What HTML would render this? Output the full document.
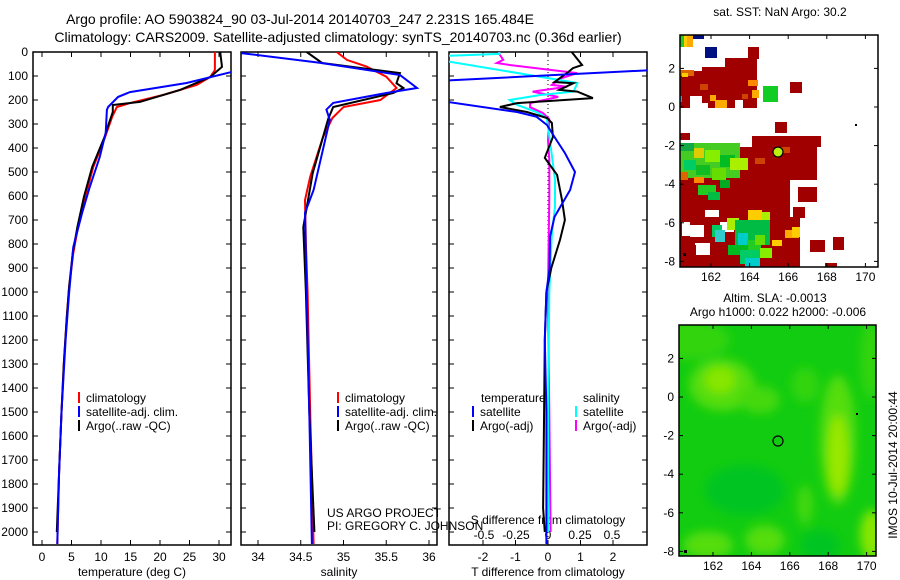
<!DOCTYPE html>
<html><head><meta charset="utf-8"><style>
body{margin:0;background:#fff;}
svg{display:block;font-family:"Liberation Sans",sans-serif;}
</style></head><body>
<svg id="c" width="900" height="580" xmlns="http://www.w3.org/2000/svg">
<text x="300" y="24" font-size="14" text-anchor="middle">Argo profile: AO 5903824_90 03-Jul-2014 20140703_247 2.231S 165.484E</text>
<text x="338" y="42" font-size="14" text-anchor="middle">Climatology: CARS2009. Satellite-adjusted climatology: synTS_20140703.nc (0.36d earlier)</text>
<text x="780" y="16" font-size="12" text-anchor="middle">sat. SST: NaN Argo: 30.2</text>
<text x="775" y="302" font-size="12" text-anchor="middle">Altim. SLA: -0.0013</text>
<text x="778" y="316" font-size="12" text-anchor="middle">Argo h1000: 0.022 h2000: -0.006</text>
<text x="897" y="465" font-size="12" text-anchor="middle" transform="rotate(-90 897 465)">IMOS 10-Jul-2014 20:00:44</text>
<text x="327" y="517" font-size="12">US ARGO PROJECT</text>
<text x="327" y="530" font-size="12">PI: GREGORY C. JOHNSON</text>
</svg>
<script>
// ---- data ----
const depthTicks=[0,100,200,300,400,500,600,700,800,900,1000,1100,1200,1300,1400,1500,1600,1700,1800,1900,2000];
const tTicks=[0,5,10,15,20,25,30];
const sTicks=[34,34.5,35,35.5,36];
const dtTicks=[-2,-1,0,1,2];
const dsTicks=[-0.5,-0.25,0,0.25,0.5];
const tClimDepth=[0,75,104,137,179,213,229,270,354,479,604,729,838,979,1104,1300,1500,1750,2050];
const tClimVal=[29.3,29.3,28.5,26.2,20.5,14.9,12.7,11.9,10.7,8.7,7.3,6.1,5.3,4.6,4.2,3.7,3.3,2.9,2.6];
const tArgoDepth=[0,62,104,158,208,221,250,300,354,479,604,729,838,979,1104,1300,1500,1750,2000];
const tArgoVal=[30.2,30.5,28.5,23.4,16.6,12.0,12.0,11.3,10.6,8.5,7.1,6.0,5.2,4.6,4.2,3.7,3.3,2.9,2.5];
const tSatDepth=[0,83,129,167,187,229,241,337,437,562,671,812,1004,1200,1500,1750,2050];
const tSatVal=[34,32.2,24.5,14.9,12.9,11.2,11.0,10.8,9.8,8.1,6.8,5.3,4.6,4.0,3.3,2.9,2.6];
const sClimDepth=[0,33,61,103,150,200,229,275,354,520,617,800,1000,1500,2050];
const sClimVal=[34.92,35.04,35.27,35.5,35.62,35.43,35.0,34.87,34.76,34.61,34.55,34.56,34.58,34.61,34.65];
const sArgoDepth=[0,46,88,130,150,171,229,280,505,730,1000,1500,2000];
const sArgoVal=[34.57,34.75,35.66,35.62,35.7,35.58,34.88,34.82,34.64,34.53,34.56,34.6,34.66];
const sSatDepth=[0,45,96,150,171,212,240,283,575,670,1000,1500,2050];
const sSatVal=[33.7,34.72,35.66,35.86,35.5,34.88,34.8,34.84,34.65,34.55,34.57,34.6,34.63];
const dtSatDepth=[0,70,125,190,250,270,304,354,421,500,575,687,770,900,1000,1200,1500,2050];
const dtSatVal=[4,4,-4,-4,-0.95,-0.35,-0.03,0.2,0.52,0.83,0.68,0.2,0.06,0.05,-0.05,-0.1,-0.05,-0.05];
const dtArgoDepth=[0,54,67,88,125,130,158,165,192,200,213,229,250,275,296,354,441,512,617,700,783,900,1000,1200,1500,1900,2000];
const dtArgoVal=[0.73,1.05,0.77,0.58,0.2,0.78,0.35,0.9,1.38,0.5,-0.95,-1.48,-0.65,-0.03,0.12,0.15,-0.1,0.28,0.43,0.52,0.37,0.1,-0.05,-0.1,-0.12,-0.15,-0.1];
const dsSatDepth=[0,8,20,129,165,179,200,221,250,275,367,533,645,760,1000,1500,2000];
const dsSatVal=[-0.38,-0.38,-1.0,0.23,0.2,-0.06,-0.3,-0.24,-0.09,-0.01,0.015,0.055,0.055,0.03,0.01,0.0,0.0];
const dsArgoDepth=[0,33,46,54,88,110,137,145,165,187,213,230,254,280,367,450,600,1000,1500,2000];
const dsArgoVal=[-0.39,-0.35,-0.4,-0.3,0.23,0.1,0.03,0.15,-0.12,0.08,-0.14,-0.14,-0.04,0.01,0,0.01,0.01,0.0,0.01,0.02];
const lonTicks=[162,164,166,168,170];
const latTicks1=[2,0,-2,-4,-6,-8];
const latTicks2=[2,0,-2,-4,-6,-8];

const NS="http://www.w3.org/2000/svg";
const svg=document.getElementById('c');
function mk(tag,attrs,parent){const e=document.createElementNS(NS,tag);for(const k in attrs)e.setAttribute(k,attrs[k]);(parent||svg).appendChild(e);return e;}
const yD=d=>52+0.24*d;
const P1={x0:33,x1:231,f:v=>42+5.9*v};
const P2={x0:241,x1:437,f:v=>258+85.5*(v-34)};
const P3={x0:449,x1:647,f:v=>548+32.5*v};
const dsf=v=>548+128*v;
const TOP=52,BOT=545;
const defs=mk('defs',{});
[[P1,'cp1'],[P2,'cp2'],[P3,'cp3']].forEach(([p,id])=>{const c=mk('clipPath',{id:id},defs);mk('rect',{x:p.x0,y:TOP,width:p.x1-p.x0,height:BOT-TOP},c);});
function frame(p,name){
 const r=mk('rect',{x:p.x0,y:TOP,width:p.x1-p.x0,height:BOT-TOP,fill:'none',stroke:'#000','stroke-width':1.5});
 
 
 depthTicks.forEach(d=>{mk('line',{x1:p.x0,x2:p.x0+5,y1:yD(d),y2:yD(d),stroke:'#000'});mk('line',{x1:p.x1-5,x2:p.x1,y1:yD(d),y2:yD(d),stroke:'#000'});});
}
frame(P1,'temperature-panel');frame(P2,'salinity-panel');frame(P3,'difference-panel');
depthTicks.forEach(d=>{const t=mk('text',{x:28,y:yD(d)+4,'font-size':12,'text-anchor':'end'});t.textContent=d;
 
 });
function xticks(p,ticks,fx,fmt){ticks.forEach(v=>{const x=fx(v);
 mk('line',{x1:x,x2:x,y1:BOT,y2:BOT-5,stroke:'#000'});mk('line',{x1:x,x2:x,y1:TOP,y2:TOP+5,stroke:'#000'});
 const t=mk('text',{x:x,y:BOT+16,'font-size':12,'text-anchor':'middle'});t.textContent=fmt?fmt(v):v;
 
 });}
xticks(P1,tTicks,P1.f);xticks(P2,sTicks,P2.f);xticks(P3,dtTicks,P3.f);
dsTicks.forEach(v=>{const t=mk('text',{x:dsf(v),y:539,'font-size':12,'text-anchor':'middle'});t.textContent=v;
 
 });
[['temperature (deg C)',132,'temperature-axis-title'],['salinity',339,'salinity-axis-title'],['T difference from climatology',548,'t-diff-axis-title']].forEach(([s,x,n])=>{const t=mk('text',{x:x,y:576,'font-size':12,'text-anchor':'middle'});t.textContent=s;
 
 });
{const t=mk('text',{x:548,y:524,'font-size':12,'text-anchor':'middle'});t.textContent='S difference from climatology';
 
 }
mk('line',{x1:548,x2:548,y1:TOP,y2:BOT,stroke:'#000','stroke-dasharray':'1,3'});
function line(ds,vs,fx,col,clip,name){const pts=ds.map((d,i)=>fx(vs[i]).toFixed(1)+','+yD(d).toFixed(1)).join(' ');
 const e=mk('polyline',{points:pts,fill:'none',stroke:col,'stroke-width':2,'clip-path':'url(#'+clip+')'});
 
 }
line(tClimDepth,tClimVal,P1.f,'#f00','cp1','temp-climatology-line');
line(tArgoDepth,tArgoVal,P1.f,'#000','cp1','temp-argo-line');
line(tSatDepth,tSatVal,P1.f,'#00f','cp1','temp-satellite-line');
line(sClimDepth,sClimVal,P2.f,'#f00','cp2','sal-climatology-line');
line(sArgoDepth,sArgoVal,P2.f,'#000','cp2','sal-argo-line');
line(sSatDepth,sSatVal,P2.f,'#00f','cp2','sal-satellite-line');
line(dsArgoDepth,dsArgoVal,dsf,'#f0f','cp3','s-diff-argo-line');
line(dsSatDepth,dsSatVal,dsf,'#0ff','cp3','s-diff-satellite-line');
line(dtArgoDepth,dtArgoVal,P3.f,'#000','cp3','t-diff-argo-line');
line(dtSatDepth,dtSatVal,P3.f,'#00f','cp3','t-diff-satellite-line');
function leg(x,y,col,txt,name){mk('line',{x1:x,x2:x,y1:y-10,y2:y+1,stroke:col,'stroke-width':2});const t=mk('text',{x:x+7,y:y,'font-size':12});t.textContent=txt;
 
 }
leg(79,402,'#f00','climatology','legend-climatology');leg(79,416,'#00f','satellite-adj. clim.','legend-satellite');leg(79,430,'#000','Argo(..raw -QC)','legend-argo');
leg(338,402,'#f00','climatology','legend2-climatology');leg(338,416,'#00f','satellite-adj. clim.','legend2-satellite');leg(338,430,'#000','Argo(..raw -QC)','legend2-argo');
{const t=mk('text',{x:481,y:402,'font-size':12});t.textContent='temperature';
 
 }
{const t=mk('text',{x:583,y:402,'font-size':12});t.textContent='salinity';
 
 }
leg(473,416,'#00f','satellite','legend3-t-satellite');leg(473,430,'#000','Argo(-adj)','legend3-t-argo');
leg(576,416,'#0ff','satellite','legend3-s-satellite');leg(576,430,'#f0f','Argo(-adj)','legend3-s-argo');

// ---- SST map ----
const M1={x0:680,x1:878,y0:35,y1:267,lx:v=>711+19.3*(v-162),ly:v=>107-19.3*v};
const sstCells=[
[680,67,77,41,'#a00000'],[725,58,32,10,'#a00000'],[748,47,11,12,'#a00000'],[705,47,12,11,'#001080'],
[680,67,22,4,'#fff'],[680,35,4,12,'#22cc22'],[684,35,3,12,'#ffcc00'],[687,35,6,12,'#ffaa00'],[693,35,11,4,'#001080'],
[680,70,14,6,'#dd6600'],[682,73,6,4,'#ffcc00'],[700,84,8,6,'#cc4400'],[710,95,6,6,'#ffaa00'],[748,80,10,6,'#ff8800'],[752,90,7,8,'#ffaa00'],[742,94,6,5,'#cc4400'],[680,96,2,6,'#00aaff'],[690,96,12,12,'#fff'],[715,100,12,8,'#ffaa00'],[700,103,8,5,'#fff'],[735,100,8,8,'#fff'],
[763,86,15,16,'#11cc22'],[790,82,12,11,'#a00000'],[775,122,12,11,'#a00000'],[752,136,69,11,'#a00000'],[680,133,10,7,'#a00000'],
[740,147,77,33,'#a00000'],[680,177,110,40,'#a00000'],[798,187,19,15,'#a00000'],[793,207,12,11,'#a00000'],
[680,143,60,35,'#44cc22'],[680,143,14,8,'#11aa44'],[694,148,10,10,'#ddcc00'],[705,150,15,12,'#88ee00'],[720,155,15,12,'#00bb22'],[730,158,18,12,'#aaee00'],[684,160,12,10,'#00cc66'],[696,165,14,10,'#11bb22'],[712,168,14,12,'#66dd00'],[680,172,8,8,'#dd6600'],[694,177,10,6,'#ff8800'],[698,185,18,10,'#22cc22'],[708,192,12,8,'#00bb44'],[720,180,10,8,'#00aa22'],[745,150,20,6,'#a00000'],[755,158,10,6,'#cc4400'],[776,147,14,6,'#cc4400'],
[680,217,60,50,'#a00000'],[740,217,60,50,'#a00000'],[690,225,14,12,'#fff'],[720,222,14,10,'#fff'],[695,243,15,12,'#fff'],[800,240,20,27,'#fff'],[682,222,8,14,'#fff'],[705,210,14,7,'#fff'],
[748,210,14,14,'#ffcc00'],[762,212,8,10,'#aaee00'],[727,218,12,12,'#aaee00'],[735,220,35,25,'#00bb44'],[712,225,10,12,'#00cc66'],[715,230,10,12,'#33cccc'],[738,233,10,12,'#00cccc'],[747,240,14,12,'#22cc22'],[755,235,10,10,'#66dd00'],[728,245,20,10,'#00bb22'],[740,250,20,14,'#00cc66'],[760,248,12,10,'#88ee00'],[745,258,15,9,'#00cccc'],[772,240,10,6,'#ffcc00'],[785,230,14,8,'#ffaa00'],[792,227,8,10,'#ffcc00'],
[810,240,15,12,'#a00000'],[833,237,11,13,'#a00000'],[825,263,12,4,'#a00000'],[680,245,16,22,'#a00000']
];
const g1=mk('g',{'clip-path':'url(#cpm1)'});
{const c=mk('clipPath',{id:'cpm1'},defs);mk('rect',{x:M1.x0,y:M1.y0,width:M1.x1-M1.x0,height:M1.y1-M1.y0},c);}


sstCells.forEach(c=>mk('rect',{x:c[0],y:c[1],width:c[2],height:c[3],fill:c[4]},g1));
mk('circle',{cx:778,cy:152,r:5,fill:'#bbee11',stroke:'#000','stroke-width':1.2},g1);
mk('rect',{x:855,y:124,width:2,height:2,fill:'#000'},g1);
mk('rect',{x:683,y:253,width:3,height:3,fill:'#000'},g1);
function mapAxes(M,lats,name){
 const r=mk('rect',{x:M.x0,y:M.y0,width:M.x1-M.x0,height:M.y1-M.y0,fill:'none',stroke:'#000','stroke-width':1.5});
 
 
 lonTicks.forEach(v=>{const x=M.lx(v);mk('line',{x1:x,x2:x,y1:M.y0,y2:M.y0+4,stroke:'#000'});mk('line',{x1:x,x2:x,y1:M.y1,y2:M.y1-4,stroke:'#000'});
  const t=mk('text',{x:x,y:M.y1+14,'font-size':12,'text-anchor':'middle'});t.textContent=v;
  
  });
 lats.forEach(v=>{const y=M.ly(v);mk('line',{x1:M.x0,x2:M.x0+4,y1:y,y2:y,stroke:'#000'});mk('line',{x1:M.x1,x2:M.x1-4,y1:y,y2:y,stroke:'#000'});
  const t=mk('text',{x:M.x0-5,y:y+4,'font-size':12,'text-anchor':'end'});t.textContent=v;
  
  });
}
mapAxes(M1,latTicks1,'sst-map-frame');

// ---- SLA map ----
const M2={x0:679,x1:876,y0:325,y1:556,lx:v=>713+19.2*(v-162),ly:v=>397-19.3*v};
{const c=mk('clipPath',{id:'cpm2'},defs);mk('rect',{x:M2.x0,y:M2.y0,width:M2.x1-M2.x0,height:M2.y1-M2.y0},c);
 const f=mk('filter',{id:'bl'},defs);mk('feGaussianBlur',{stdDeviation:5},f);}
const g2=mk('g',{'clip-path':'url(#cpm2)'});


mk('rect',{x:M2.x0,y:M2.y0,width:M2.x1-M2.x0,height:M2.y1-M2.y0,fill:'#11cc11'},g2);
const blobs=[[690,340,40,20,'#33d411'],[722,385,33,26,'#55dd11'],[720,380,15,13,'#88e600'],[760,400,20,14,'#44d811'],[838,440,18,65,'#55dd11'],[838,455,10,40,'#99e800'],[805,385,14,18,'#33d411'],[805,505,8,20,'#44d811'],[765,540,20,15,'#55dd11'],[872,535,12,25,'#88e600'],[708,545,25,14,'#55dd11'],[870,360,10,40,'#33d411'],[745,490,40,25,'#00c422'],[820,545,20,15,'#00c422']];
const g2b=mk('g',{filter:'url(#bl)'},g2);
blobs.forEach(b=>mk('ellipse',{cx:b[0],cy:b[1],rx:b[2],ry:b[3],fill:b[4]},g2b));
mk('circle',{cx:778,cy:441,r:5,fill:'none',stroke:'#000','stroke-width':1.2},g2);
mk('rect',{x:856,y:413,width:2,height:2,fill:'#000'},g2);
mk('rect',{x:684,y:550,width:3,height:3,fill:'#000'},g2);
mapAxes(M2,latTicks2,'sla-map-frame');
</script>
</body></html>
